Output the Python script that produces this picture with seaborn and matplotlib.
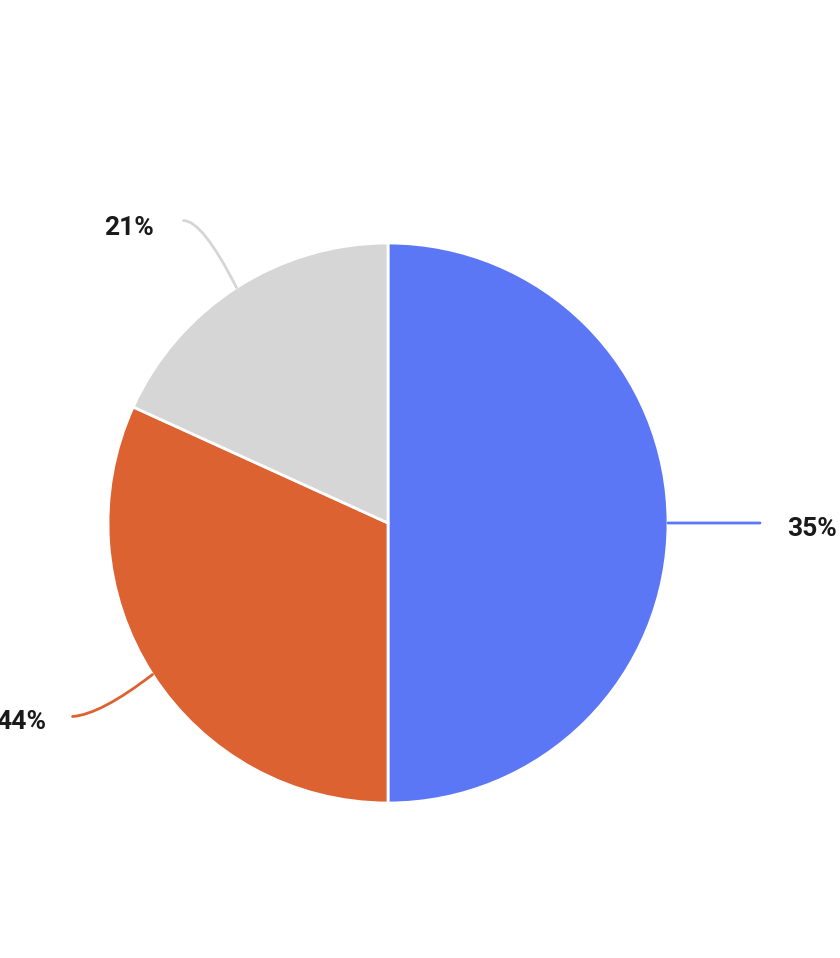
import numpy as np
import matplotlib
matplotlib.use('Agg')
import matplotlib.pyplot as plt
from matplotlib.path import Path
from matplotlib.patches import PathPatch
import seaborn as sns

# ── Data ───────────────────────────────────────────────────────────────────────
slice_shares = [50.0, 31.8, 18.2]          # drawn slice sizes (blue, orange, grey)
slice_labels = ['35%', '44%', '21%']       # label text as printed on the chart
slice_colors = ['#5C77F6', '#DC6231', '#D6D6D6']

# ── Style ──────────────────────────────────────────────────────────────────────
sns.set_theme(style='white')
plt.rcParams['font.family'] = ['Roboto', 'DejaVu Sans']
palette = sns.color_palette(slice_colors)

W, H = 840, 958
fig = plt.figure(figsize=(W / 100, H / 100), dpi=100)
ax = fig.add_axes([0, 0, 1, 1])

cx, cy, R = 388, H - 523, 280
wedges, _ = ax.pie(slice_shares, colors=palette, startangle=90, counterclock=False,
                   center=(cx, cy), radius=R,
                   wedgeprops=dict(edgecolor='white', linewidth=2))
ax.set_xlim(0, W)
ax.set_ylim(0, H)
ax.set_aspect('equal')
ax.axis('off')

# leader lines: (end-point offset, control-point offset, text offset, alignment)
leaders = [
    dict(end=(92, 0),   ctrl=(46, 0),     txt=(119, -6),  ha='left'),
    dict(end=(-80, -42), ctrl=(-52, -40), txt=(-106, -47), ha='right'),
    dict(end=(-53, 67),  ctrl=(-34, 67),  txt=(-83, 60),   ha='right'),
]

for w, lab, col, ld in zip(wedges, slice_labels, palette, leaders):
    mid = np.deg2rad((w.theta1 + w.theta2) / 2)
    sx, sy = cx + R * np.cos(mid), cy + R * np.sin(mid)
    ex, ey = sx + ld['end'][0], sy + ld['end'][1]
    qx, qy = sx + ld['ctrl'][0], sy + ld['ctrl'][1]
    path = Path([(sx, sy), (qx, qy), (ex, ey)], [Path.MOVETO, Path.CURVE3, Path.CURVE3])
    ax.add_patch(PathPatch(path, facecolor='none', edgecolor=col, linewidth=2,
                           capstyle='round'))
    ax.text(sx + ld['txt'][0], sy + ld['txt'][1], lab, ha=ld['ha'], va='center',
            fontsize=19, fontweight='bold', color='#1a1a1a')

fig.savefig('out.png', dpi=100, facecolor='white')
